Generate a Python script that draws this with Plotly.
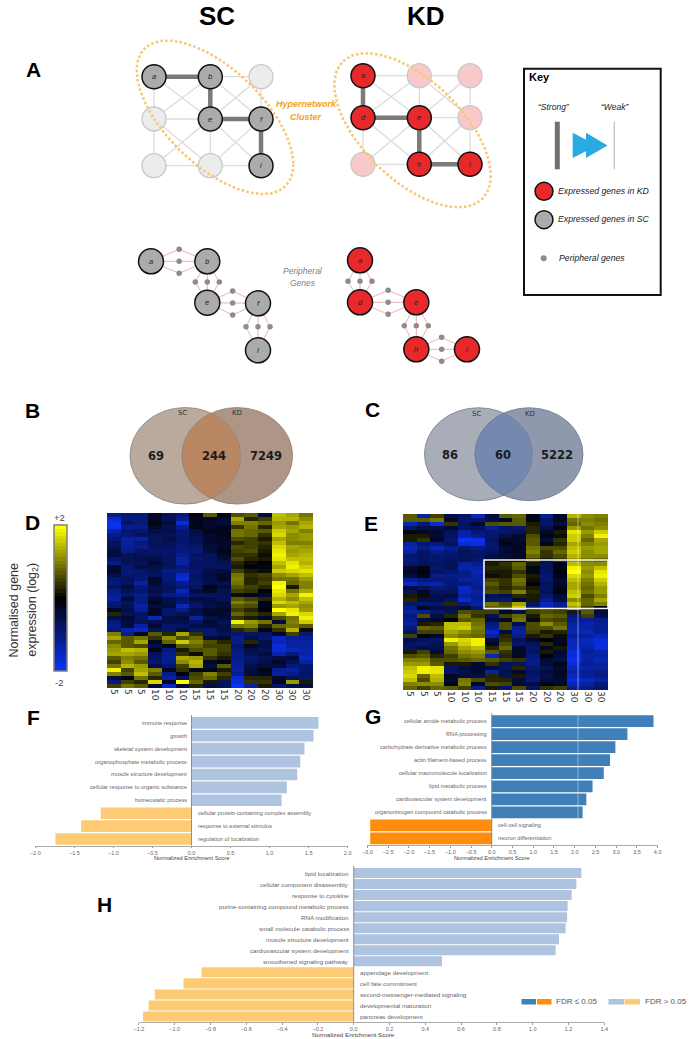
import numpy as np
import plotly.graph_objects as go

W, H = 694, 1039
FONT = "Liberation Sans"

# ---------- data ----------
heat_columns = ["5","5","5","10","10","10","15","15","15","20","20","20","30","30","30"]

colorbar_levels = [2.0,1.9,1.8,1.7,1.6,1.5,1.4,1.3,1.2,1.1,1.0,.9,.8,.7,.6,.5,.4,.3,.2,.1,0,
                   -.1,-.2,-.3,-.4,-.5,-.6,-.7,-.8,-.9,-1.0,-1.1,-1.2,-1.3,-1.4,-1.5,-1.6,-1.7,-1.8,-1.9,-2.0]

heat_d = [
[-1.1,-1.0,-1.0,-.3,-.7,-1.0,-.1,.7,-.2,.6,.7,-.5,1.5,1.3,.9],
[-1.7,-1.0,-1.0,-.3,-.7,-1.2,-.2,-.3,-.4,1.3,.3,.5,1.4,1.4,1.1],
[-1.9,-.8,-1.0,-.2,-.5,-1.7,-.2,-.4,-.5,1.0,1.0,.8,1.2,.9,1.3],
[-1.9,-1.2,-1.1,-.3,-.7,-1.2,-.2,-.3,-.2,.4,.9,.3,1.3,1.2,1.4],
[-1.4,-.9,-.9,-.6,-.6,-.9,-.5,-.2,-.2,.9,.8,.7,1.6,1.3,1.0],
[-1.1,-1.0,-.8,-.7,-.7,-.9,-.6,-.3,-.2,.9,.8,.4,1.7,1.1,1.2],
[-.9,-1.3,-1.3,-.8,-.6,-.9,-.7,-.4,-.3,.6,.5,.2,1.3,1.1,1.2],
[-.8,-1.3,-1.0,-.7,-.7,-.9,-.7,-.4,-.3,.3,.5,.4,1.5,1.0,1.0],
[-.7,-1.2,-1.1,-.8,-.8,-1.0,-.9,-.5,-.3,.6,.5,.3,1.7,1.3,1.2],
[-.5,-1.1,-.8,-.9,-.9,-1.0,-1.0,-.5,-.2,.5,.6,.2,1.8,1.2,1.3],
[-.5,-.7,-.7,-.7,-.8,-1.1,-.8,-.7,-.3,.4,.4,.1,1.9,1.3,1.4],
[-.9,-.7,-.6,-.6,-.8,-1.3,-.9,-.7,-.5,.6,.3,.2,1.8,1.5,1.5],
[-1.1,-.7,-.7,-.4,-.7,-1.3,-.8,-.8,-.7,.3,.1,-.1,1.5,1.8,1.4],
[-.4,-.9,-.6,-.6,-.8,-1.0,-.8,-.7,-.8,.2,-.1,-.2,1.3,1.9,1.6],
[-.3,-1.0,-.9,-.7,-1.1,-1.1,-.9,-.6,-.5,.5,.2,.1,1.6,1.7,1.8],
[-.6,-.9,-.9,-.8,-1.0,-1.6,-.8,-.5,-.4,.9,.4,.5,1.1,1.3,1.5],
[-.9,-.7,-1.0,-.3,-1.0,-1.8,-.8,-.6,-.3,1.0,.3,.4,.9,.9,1.2],
[-1.0,-.8,-1.3,-.4,-.9,-1.1,-.9,-.6,-.6,.9,.3,.5,1.9,.8,1.0],
[-.8,-.5,-1.0,-.6,-.7,-1.0,-.8,-.2,-.5,.7,.5,.3,2.0,.2,1.0],
[-1.1,-.7,-.9,-.6,-.8,-1.5,-.5,-.3,-.7,.5,.4,-.1,1.8,.9,1.3],
[-1.2,-.9,-1.1,-.7,-1.1,-1.2,-.8,-.8,-.7,.1,-.2,-.4,1.7,1.3,1.9],
[-1.3,-.4,-1.1,-.4,-.6,-.8,-.5,-.6,-.7,.7,.5,.3,1.4,1.1,1.5],
[-1.0,-.8,-1.1,-.2,-.6,-.9,-.7,-.5,-.5,1.0,.8,-.2,1.7,1.5,1.3],
[-.9,-.7,-1.3,-.5,-.5,-1.5,-.9,-.6,-.5,.7,.6,-.2,1.2,1.3,1.1],
[-.3,-.6,-1.2,-.3,-.9,-1.1,-.6,-.4,-.3,.5,.3,-.1,2.0,1.8,1.2],
[.3,-.7,-.8,-.3,-.9,-.7,-.6,-.3,-.4,.8,.5,.3,1.3,1.9,1.7],
[-.6,-.4,-.8,-1.5,-.6,-.5,-1.3,-.6,-.5,.4,.2,-.3,.6,.9,1.9],
[-1.0,-.5,-.7,-.6,-.6,-.6,-.8,-.4,-.7,1.9,1.2,.9,-.5,1.0,1.6],
[-1.1,-.5,-1.3,-.4,-.9,-.8,-.6,-.5,-.6,.9,1.0,.3,.8,.9,.7],
[-1.0,-1.4,-1.6,-.7,-.9,-.5,-.9,-.9,-.6,.3,.5,-.2,.4,1.4,.1],
[1.0,-1.2,-.3,.7,.3,1.3,.4,-.9,-.7,-.9,-.8,-.8,-.3,.5,-1.0],
[1.3,.7,.9,.4,1.1,.6,.8,-.5,-.4,-1.1,-.6,-.9,-1.6,-1.2,-1.2],
[.8,.7,1.3,-.3,.8,1.6,1.0,.6,.3,-1.1,.3,-.6,-1.5,-1.3,-1.3],
[1.1,.7,.6,-.6,-.2,.7,.8,.5,.5,-.9,-.3,-.6,-1.8,-1.3,-1.3],
[1.2,1.5,1.4,-.2,-1.0,.2,.6,.7,.5,-1.0,-.6,-.7,-1.7,-1.5,-1.4],
[1.3,1.3,1.2,-.7,-1.1,.4,.1,.7,.4,-1.1,-.7,-.5,-1.4,-1.0,-1.4],
[.7,1.0,.9,-.8,-1.2,1.3,1.2,.4,.2,-1.1,-.9,-.7,-.6,-.5,-1.6],
[.5,1.1,.7,-.9,-1.1,1.1,1.4,-.3,-.2,-1.2,-.8,-.6,-.3,-.7,-1.3],
[.9,1.4,1.2,-.6,-.9,.5,1.3,-.5,.7,-1.2,-.6,-.5,-.5,-1.0,-.9],
[1.9,.5,1.3,1.0,-.3,.4,-.2,-.2,.2,-1.3,-.5,-.2,-1.2,-1.3,-.9],
[1.0,.7,1.5,.7,-1.1,-.1,.5,1.0,.5,-1.2,-.5,-.3,-1.3,-1.1,-.8],
[-.5,-.2,.9,.3,-1.3,-.8,.6,.8,.3,-1.7,.3,.3,-.4,-.8,-.9],
[-1.0,.5,.3,1.7,-.3,2.0,.8,.2,-.8,-1.8,.4,.4,-.3,1.2,.2],
[.5,.9,.7,-.4,-1.6,-.5,.3,-.6,-.7,-2.0,-1.3,.2,-.9,-.6,-.5],
]

heat_e = [
[.7,-1.3,.5,-.6,-.8,-1.5,-.5,.7,.8,-.2,-1.2,-.3,1.4,1.1,1.0],
[.7,.7,.9,-.3,-.9,-.9,-.6,-.3,.7,-.2,-.8,-.3,.9,1.0,.9],
[-1.5,-1.0,-1.7,.4,-.8,-.4,.6,.7,.7,.2,-.9,-.5,.8,1.1,1.0],
[-.9,-.6,-.6,-.4,-.8,-.7,-1.2,-.8,-.9,.3,-.6,-.2,1.2,.9,1.1],
[-.2,-.3,-.4,-.7,-1.3,-1.0,-.9,-.9,-.7,.3,-.3,.2,1.8,1.2,1.6],
[.2,.2,-.4,-.8,-1.4,-1.1,-.9,-.6,-.4,.6,-.2,.1,1.6,1.0,1.9],
[.2,.4,-.3,-.9,-2.0,-1.9,-.8,-.3,-.4,.7,-.5,.4,1.6,.8,1.3],
[-1.3,-.9,-1.0,-.7,-1.7,-1.8,-.9,-.2,-.3,.7,-.2,.3,1.3,1.0,1.2],
[-1.5,-1.1,-1.5,-1.2,-.9,-1.1,-.9,-.5,-.3,.9,.6,.6,1.5,1.2,1.3],
[-1.3,-.8,-1.1,-1.0,-.7,-.9,-.8,-.4,-.3,1.0,.4,.8,1.6,1.1,1.3],
[-.9,-.8,-.9,-.9,-.8,-.8,-.6,-.5,-.3,.8,.4,.6,1.4,1.1,1.1],
[-1.0,-.8,-.9,-.8,-.7,-.9,-.4,-.3,-.3,.5,.2,.4,1.2,.9,.8],
[-.9,-.7,-.8,-.7,-1.3,-1.1,.2,.4,.8,.2,-.7,-.2,1.5,1.1,1.1],
[-.4,-.2,-.9,-.7,-1.4,-1.3,.3,.3,.7,-.2,-.7,-.2,1.9,1.2,1.5],
[-.3,-.1,-.8,-.9,-1.1,-1.5,.2,.2,.4,-.2,-.8,-.1,2.0,1.1,1.8],
[-.5,-.2,-1.1,-1.1,-1.1,-1.3,.1,.2,.6,.2,-.9,-.2,1.7,1.2,1.9],
[-1.2,-1.0,-1.0,-1.0,-1.3,-1.3,.5,.4,.9,.1,-.9,-.4,1.5,1.0,1.6],
[-1.6,-1.3,-1.4,-1.0,-1.0,-1.2,.7,.4,.8,-.1,-.7,-.3,1.3,.9,1.4],
[-.5,-.7,-1.0,-.9,-1.6,-1.1,.5,.3,.5,.2,-.8,-.2,1.3,.8,1.2],
[-.8,-.3,-.8,-.8,-1.5,-1.3,.6,.5,1.0,.3,-.7,-.1,1.5,.9,1.2],
[.2,.1,-.6,-.5,-1.3,-1.2,-.7,-.6,.3,.2,-.9,-.5,1.6,.6,1.0],
[.3,-.6,-.6,-.8,-1.7,-1.2,-.9,-.9,-.4,.2,-1.1,-.5,1.1,.8,1.3],
[-.9,-.9,-.9,.3,-1.0,-1.3,.9,.6,1.3,-.8,-1.5,-1.1,1.5,.8,1.0],
[-1.1,-.3,-.6,-.6,-.5,-.9,.7,.7,1.6,-1.0,-1.5,-1.2,1.2,.5,-.1],
[-1.3,-1.2,-.9,-.7,.6,.5,.5,-.3,-.6,.5,.6,.5,.2,.7,-.5],
[-1.0,.6,-.6,.3,.9,.4,-.7,.5,.8,.2,.8,.7,-1.0,.5,-.6],
[-1.2,-.5,-.3,-.1,.7,.8,-.5,-.3,.9,-.3,.6,.5,-1.1,-1.2,-1.1],
[-1.3,.2,.3,1.5,1.5,.9,-1.0,.6,-.6,.6,1.1,.7,-1.3,-1.4,-1.2],
[-1.0,.8,.7,1.5,1.6,1.0,-1.2,.6,-1.2,.6,.6,.9,-1.4,-1.3,-1.2],
[-.8,.5,.5,1.3,1.1,.9,-1.6,-.5,-1.3,.5,.2,.3,-1.5,-1.5,-1.2],
[.5,-.1,-.3,1.1,.9,.8,-1.3,.3,-1.1,.2,.4,.1,-1.2,-1.3,-1.5],
[-.6,-.7,-.8,1.9,1.7,1.9,-.5,.4,-.7,-.4,-.1,-.3,-1.5,-1.6,-1.7],
[-.8,-.9,-.7,1.2,1.6,1.9,-.3,.6,-.9,-.7,.3,-.2,-1.5,-1.5,-1.8],
[-.8,-.6,-.6,.9,1.3,1.5,.3,.8,-.4,-.9,-.3,.2,-1.6,-1.4,-1.8],
[.2,.5,-.5,.8,1.1,1.2,.7,.4,-.3,-.8,.2,-.4,-1.8,-1.2,-1.4],
[.6,.7,.3,.5,.9,1.0,-1.5,.3,-.3,-1.0,-.1,-.5,-1.8,-1.4,-1.3],
[1.0,1.0,.6,.6,.7,.8,.7,.5,.4,-1.1,-.4,-.6,-1.9,-1.3,-1.5],
[1.2,1.2,.7,.2,.2,-.4,.4,-.7,-.8,-1.1,-.5,-.2,-1.7,-1.2,-1.3],
[1.5,1.9,1.8,-.8,-.5,-.4,-.5,-.8,.3,-.9,-.7,-.4,-1.6,-1.4,-1.3],
[1.6,1.9,1.8,-.8,-.6,-.4,-1.3,-.6,-.4,-.8,-.5,-.3,-1.4,-1.2,-1.1],
[1.7,.8,1.5,-.3,-.5,-.6,.3,-.7,.2,-.9,-.6,-.3,-1.5,-1.2,-1.1],
[1.5,.6,1.4,-.4,.9,.6,.3,.3,-.5,-1.0,-.5,-.4,-1.7,-1.5,-1.3],
[1.0,1.1,1.1,-.2,1.0,-.3,.6,.5,-.4,-.5,-.2,-.3,-1.5,-1.3,-1.0],
[.8,.5,.8,.7,.5,-1.2,.2,-.9,.6,-.8,.4,.5,-1.2,-1.1,-.9],
]

f_terms = ["immune response","growth","skeletal system development","organophosphate metabolic process",
           "muscle structure development","cellular response to organic substance","homeostatic process",
           "cellular protein-containing complex assembly","response to external stimulus","regulation of localization"]
f_scores = [1.626,1.562,1.447,1.392,1.353,1.221,1.153,-1.161,-1.413,-1.742]

g_terms = ["cellular amide metabolic process","RNA processing","carbohydrate derivative metabolic process",
           "actin filament-based process","cellular macromolecule localization","lipid metabolic process",
           "cardiovascular system development","organonitrogen compound catabolic process",
           "cell-cell signaling","neuron differentiation"]
g_scores = [3.90,3.27,2.98,2.85,2.70,2.43,2.28,2.19,-2.93,-2.93]

h_terms = ["lipid localization","cellular component disassembly","response to cytokine",
           "purine-containing compound metabolic process","RNA modification","small molecule catabolic process",
           "muscle structure development","cardiovascular system development","smoothened signaling pathway",
           "appendage development","cell fate commitment","second-messenger-mediated signaling",
           "developmental maturation","pancreas development"]
h_scores = [1.272,1.244,1.218,1.195,1.192,1.184,1.147,1.128,0.493,-0.850,-0.951,-1.111,-1.145,-1.177]

venn_b = ["69","244","7249"]
venn_c = ["86","60","5222"]

sc_grid = [["a","b",""],["","e","f"],["","","i"]]
kd_grid = [["a","",""],["d","e",""],["","h","i"]]
sc_strong = [("a","b"),("b","e"),("e","f"),("f","i")]
kd_strong = [("a","d"),("d","e"),("e","h"),("h","i")]
sc_chain = ["a","b","e","f","l"]
kd_chain = ["a","d","e","h","i"]

# ---------- layout geometry (page pixels) ----------
sc_xs, sc_ys = [154, 210.3, 261], [76.7, 119, 165.7]
kd_xs, kd_ys = [363, 419.3, 470], [75.7, 117.7, 164.3]
sc_chain_xy = [(151,261.3),(207.3,261.3),(207.3,302.7),(258,303.3),(258,350.3)]
kd_chain_xy = [(360,260.3),(360,302.3),(416.3,302.3),(416.3,349.3),(467,349.3)]

traces, shapes, annos = [], [], []

def text(x, y, s, size=8, color="#000", bold=False, italic=False, font=FONT, anchor="center", angle=0):
    annos.append(dict(x=x, y=y, xref="x", yref="y", text=s, showarrow=False, xanchor=anchor, yanchor="middle",
                      textangle=angle,
                      font=dict(size=size, color=color, family=font,
                                weight="bold" if bold else "normal",
                                style="italic" if italic else "normal")))

def lines(pairs, color, width):
    xs, ys = [], []
    for (x0, y0), (x1, y1) in pairs:
        xs += [x0, x1, None]; ys += [y0, y1, None]
    traces.append(go.Scatter(x=xs, y=ys, mode="lines", line=dict(color=color, width=width),
                             hoverinfo="skip", showlegend=False, xaxis="x", yaxis="y"))

def dots(pts, fill, edge, size, lw):
    traces.append(go.Scatter(x=[p[0] for p in pts], y=[p[1] for p in pts], mode="markers",
                             marker=dict(size=size, color=fill, line=dict(color=edge, width=lw)),
                             hoverinfo="skip", showlegend=False, xaxis="x", yaxis="y"))

def network(grid, xs, ys, strong, on, faded):
    pos = {(r, c): (xs[c], ys[r]) for r in range(3) for c in range(3)}
    weak = []
    for r in range(3):
        for c in range(3):
            if c < 2: weak.append((pos[r, c], pos[r, c+1]))
            if r < 2: weak.append((pos[r, c], pos[r+1, c]))
            if r < 2 and c < 2:
                weak.append((pos[r, c], pos[r+1, c+1])); weak.append((pos[r, c+1], pos[r+1, c]))
    lines(weak, "#dcdcdc", 1.3)
    named = {grid[r][c]: pos[r, c] for r in range(3) for c in range(3) if grid[r][c]}
    lines([(named[a], named[b]) for a, b in strong], "#7a7a7a", 4.5)
    dots([pos[r, c] for r in range(3) for c in range(3) if not grid[r][c]], faded, "#c8c8c8", 24, 1.3)
    dots(list(named.values()), on, "#111", 24, 1.5)
    for k, (x, y) in named.items():
        text(x, y, k, size=7.5, italic=True, color="#222")

def ellipse(cx, cy, hx, hy, off):
    t = np.linspace(0, 2*np.pi, 240)
    c = off * hy
    x = cx + hx*np.cos(t)
    y = cy + (c/hx)*np.cos(t) + np.sqrt(hy**2 - (c/hx)**2)*np.sin(t)
    traces.append(go.Scatter(x=x, y=y, mode="lines", line=dict(color="#f8c878", width=2.6, dash="2.6px,2.2px"),
                             hoverinfo="skip", showlegend=False, xaxis="x", yaxis="y"))

def peripheral(names, xy, on):
    edges, small = [], []
    for i in range(len(xy)-1):
        (x0, y0), (x1, y1) = xy[i], xy[i+1]
        mx, my = (x0+x1)/2, (y0+y1)/2
        horiz = abs(x1-x0) > abs(y1-y0)
        for d in (-12, 0, 12):
            p = (mx, my+d) if horiz else (mx+d, my)
            small.append(p)
            edges += [(xy[i], p), (p, xy[i+1])]
    lines(edges, "#eaa8a8", 0.9)
    dots(small, "#8c8c8c", "#8c8c8c", 5.5, 0)
    dots(xy, on, "#111", 25, 1.5)
    for k, (x, y) in zip(names, xy):
        text(x, y, k, size=7.5, italic=True, color="#222")

# panel A
network(sc_grid, sc_xs, sc_ys, sc_strong, "#ababab", "#ececec")
ellipse(215, 117.3, 78.3, 76.7, 48)
network(kd_grid, kd_xs, kd_ys, kd_strong, "#e8292b", "#f9c9c9")
ellipse(412.5, 130.3, 78.2, 77, 46)
peripheral(sc_chain, sc_chain_xy, "#ababab")
peripheral(kd_chain, kd_chain_xy, "#e8292b")

text(216.5, 15.5, "SC", size=26, bold=True)
text(425.5, 15.5, "KD", size=26, bold=True)
text(306, 104, "Hypernetwork", size=9, italic=True, color="#f0a325", bold=True)
text(306, 116.7, "Cluster", size=9, italic=True, color="#f0a325", bold=True)
text(303, 271, "Peripheral", size=8.5, italic=True, color="#808080")
text(303, 282.7, "Genes", size=8.5, italic=True, color="#808080")

letters = [("A",33,69),("B",32.7,410.7),("C",372.7,409.3),("D",32.7,522.7),("E",370.7,523.3),
           ("F",33.3,717.7),("G",372.7,716.7),("H",104,904)]
for s, x, y in letters:
    text(x, y, s, size=21, bold=True)

# key
shapes.append(dict(type="rect", x0=524, x1=660.7, y0=68.7, y1=295, xref="x", yref="y",
                   line=dict(color="#111", width=2), fillcolor="rgba(0,0,0,0)", layer="above"))
text(526.5, 77, "Key", size=11, bold=True, anchor="left")
text(554, 106.7, "“Strong”", size=8.5, italic=True, color="#222")
text(615, 106.7, "“Weak”", size=8.5, italic=True, color="#222")
lines([((557.3,121.7),(557.3,169.3))], "#707070", 5)
lines([((614.3,121.7),(614.3,169.3))], "#bdbdbd", 1.2)
for x0, x1 in ((572.7, 597), (586, 607.5)):
    traces.append(go.Scatter(x=[x0, x1, x0, x0], y=[132.7, 145.5, 158, 132.7], mode="lines", fill="toself",
                             fillcolor="#29abe2", line=dict(width=0), hoverinfo="skip", showlegend=False,
                             xaxis="x", yaxis="y"))
dots([(544,191.3)], "#e8292b", "#111", 18, 1.5)
dots([(544,219.7)], "#ababab", "#111", 18, 1.5)
dots([(543.7,258.3)], "#8c8c8c", "#8c8c8c", 6, 0)
text(556, 191, "Expressed genes in KD", size=8.7, italic=True, color="#222", anchor="left")
text(556, 219.3, "Expressed genes in SC", size=8.7, italic=True, color="#222", anchor="left")
text(557.3, 258, "Peripheral genes", size=8.7, italic=True, color="#222", anchor="left")

# venns
def venn(c1, c2, cy, rx, ry, left, right, mid, edge, vals, lx, tx, ty):
    shapes.append(dict(type="circle", x0=c1-rx, x1=c1+rx, y0=cy-ry, y1=cy+ry, xref="x", yref="y",
                       fillcolor=left, line=dict(color=edge, width=0.8), layer="below"))
    shapes.append(dict(type="circle", x0=c2-rx, x1=c2+rx, y0=cy-ry, y1=cy+ry, xref="x", yref="y",
                       fillcolor=right, line=dict(color=edge, width=0.8), layer="below"))
    half = np.arccos((c2-c1)/2/rx)
    a = np.linspace(-half, half, 60)
    x = np.concatenate([c1 + rx*np.cos(a), (c2 - rx*np.cos(a))[::-1]])
    y = np.concatenate([cy + ry*np.sin(a), (cy + ry*np.sin(a))[::-1]])
    traces.append(go.Scatter(x=x, y=y, mode="lines", fill="toself", fillcolor=mid,
                             line=dict(color=edge, width=0.6), hoverinfo="skip", showlegend=False,
                             xaxis="x", yaxis="y"))
    for s, xx in zip(vals, tx):
        text(xx, ty, s, size=11.5, bold=True, color="#1c1c1c", font="DejaVu Sans")
    text(lx[0], lx[2], "SC", size=7, color="#333", font="DejaVu Sans")
    text(lx[1], lx[2], "KD", size=7, color="#333", font="DejaVu Sans")

venn(185.3, 237.3, 455.8, 55.3, 48.3, "#b9aa9d", "#ad9686", "#b98764", "#8d8078", venn_b, (182.7,237.3,413.3), (156,214.3,266), 456)
venn(478.5, 529, 454.2, 54, 46.5, "#a9adb8", "#8f99ae", "#7389af", "#727b90", venn_c, (476,529.7,414), (449.7,503,557), 455)

# heatmap + colour bar text
scale = [[0, "#0a32f5"], [0.5, "#000000"], [1, "#ffff00"]]
text(59.5, 517, "+2", size=9.5, color="#444")
text(58.5, 682, "-2", size=9.5, color="#444")
text(13.5, 610, "Normalised gene", size=12.5, color="#333", angle=-90)
text(32.7, 610, "expression (log<sub>2</sub>)", size=12.5, color="#333", angle=-90)

layout_axes = dict(
    xaxis=dict(domain=[0, 1], range=[0, W], visible=False, fixedrange=True, automargin=False),
    yaxis=dict(domain=[0, 1], range=[H, 0], visible=False, fixedrange=True, automargin=False),
)

def place(i, l, r, t, b, xa, ya):
    xa = dict(xa, domain=[l/W, r/W], anchor=f"y{i}", automargin=False)
    ya = dict(ya, domain=[1-b/H, 1-t/H], anchor=f"x{i}", automargin=False)
    layout_axes[f"xaxis{i}"] = xa
    layout_axes[f"yaxis{i}"] = ya

def heat(i, z, l, r, t, b):
    n = len(z)
    traces.append(go.Heatmap(z=z, x=list(range(15)), y=list(range(n)), xaxis=f"x{i}", yaxis=f"y{i}",
                             colorscale=scale, zmin=-2, zmax=2, hoverinfo="skip", showscale=False))
    place(i, l, r, t, b,
          dict(range=[-0.5, 14.5], tickvals=list(range(15)), ticktext=heat_columns, tickangle=90,
               tickfont=dict(size=9, color="#333", family="DejaVu Sans"), ticks="", showgrid=False,
               zeroline=False, showline=False, fixedrange=True),
          dict(range=[n-0.5, -0.5], visible=False, fixedrange=True))

heat(2, heat_d, 107, 313, 513, 688)
heat(3, heat_e, 403, 608, 514, 690)
shapes.append(dict(type="rect", x0=484, x1=608, y0=560, y1=608.5, xref="x", yref="y",
                   line=dict(color="#f4f4f4", width=1.6), fillcolor="rgba(0,0,0,0)", layer="above"))

# colour bar drawn as its own one-column heatmap, so it cannot push the page margins
traces.append(go.Heatmap(z=[[v] for v in colorbar_levels], xaxis="x7", yaxis="y7", colorscale=scale,
                         zmin=-2, zmax=2, hoverinfo="skip", showscale=False))
place(7, 54, 67, 525, 671, dict(visible=False, fixedrange=True),
      dict(visible=False, autorange="reversed", fixedrange=True))
shapes.append(dict(type="rect", x0=54, x1=67, y0=525, y1=671, xref="x", yref="y",
                   line=dict(color="#7f7f7f", width=1.5), fillcolor="rgba(0,0,0,0)", layer="above"))

# bars
BLUE, YEL, DBLUE, ORNG = "#aec3df", "#fdcb73", "#4080b8", "#ff8c0a"

def bars(i, terms, vals, colors, l, r, t, b, rng, ticks, fmt, title_y, size, gap):
    traces.append(go.Bar(x=vals, y=terms, orientation="h", xaxis=f"x{i}", yaxis=f"y{i}",
                         marker=dict(color=colors, line=dict(width=0)), hoverinfo="skip",
                         showlegend=False, width=1-gap))
    place(i, l, r, t, b,
          dict(range=rng, tickvals=ticks, tickformat=fmt, ticks="outside", ticklen=1.5, tickcolor="#999",
               tickwidth=0.8, showline=True, linecolor="#aaa", linewidth=1, showgrid=False, zeroline=False,
               tickfont=dict(size=5.5, color="#666", family=FONT), fixedrange=True),
          dict(type="category", categoryorder="array", categoryarray=terms, range=[len(terms)-0.5, -0.5],
               visible=False, fixedrange=True))
    shapes.append(dict(type="line", xref=f"x{i}", yref=f"y{i} domain", x0=0, x1=0, y0=0, y1=1.01,
                       line=dict(color="#777", width=0.8), layer="above"))
    for s, v in zip(terms, vals):
        pos = v > 0
        annos.append(dict(x=0, y=s, xref=f"x{i}", yref=f"y{i}", text=s, showarrow=False,
                          xanchor="right" if pos else "left", xshift=-3 if pos else 4,
                          font=dict(size=size, color="#666", family=FONT)))
    annos.append(dict(x=0, y=title_y, xref=f"x{i}", yref="y", text="Normalized Enrichment Score", showarrow=False,
                      font=dict(size=size, color="#444", family=FONT)))

bars(4, f_terms, f_scores, [BLUE if v > 0 else YEL for v in f_scores], 35.3, 347.7, 716.4, 845.5,
     [-2, 2], [-2,-1.5,-1,-.5,0,.5,1,1.5,2], ".1f", 858, 5.7, 0.1)
bars(5, g_terms, g_scores, [DBLUE if v > 0 else ORNG for v in g_scores], 367.3, 657.7, 714.5, 845,
     [-3, 4], [-3,-2.5,-2,-1.5,-1,-.5,0,.5,1,1.5,2,2.5,3,3.5,4], ".1f", 858, 5.7, 0.1)
bars(6, h_terms, h_scores, [BLUE if v > 0 else YEL for v in h_scores], 138.9, 604.3, 867.5, 1022,
     [-1.2, 1.4], [-1.2,-1,-.8,-.6,-.4,-.2,0,.2,.4,.6,.8,1,1.2,1.4], ".1f", 1034.5, 6.2, 0.09)

# scan line across E and G
shapes.append(dict(type="line", x0=578, x1=578, y0=514, y1=690, xref="x", yref="y",
                   line=dict(color="rgba(255,255,255,0.6)", width=0.8), layer="above"))
shapes.append(dict(type="line", x0=578, x1=578, y0=715, y1=818, xref="x", yref="y",
                   line=dict(color="rgba(255,255,255,0.5)", width=0.8), layer="above"))

# FDR legend
for x0, x1, c in ((521.5,536,DBLUE),(537,551.5,ORNG),(608.5,624,BLUE),(624.6,640,YEL)):
    shapes.append(dict(type="rect", x0=x0, x1=x1, y0=999, y1=1004.5, xref="x", yref="y",
                       fillcolor=c, line=dict(width=0), layer="above"))
text(554, 1001.7, "FDR ≤ 0.05", size=8, color="#555", anchor="left")
text(642.7, 1001.7, "FDR > 0.05", size=8, color="#555", anchor="left")

fig = go.Figure(traces)
fig.update_layout(width=W, height=H, autosize=False, margin=dict(l=0, r=0, t=0, b=0, autoexpand=False),
                  paper_bgcolor="white", plot_bgcolor="rgba(0,0,0,0)", showlegend=False,
                  barmode="overlay", shapes=shapes, annotations=annos, **layout_axes)
fig.write_html("out.html", config=dict(displayModeBar=False),
               post_script="document.body.style.margin='0';document.body.style.overflow='hidden';")
